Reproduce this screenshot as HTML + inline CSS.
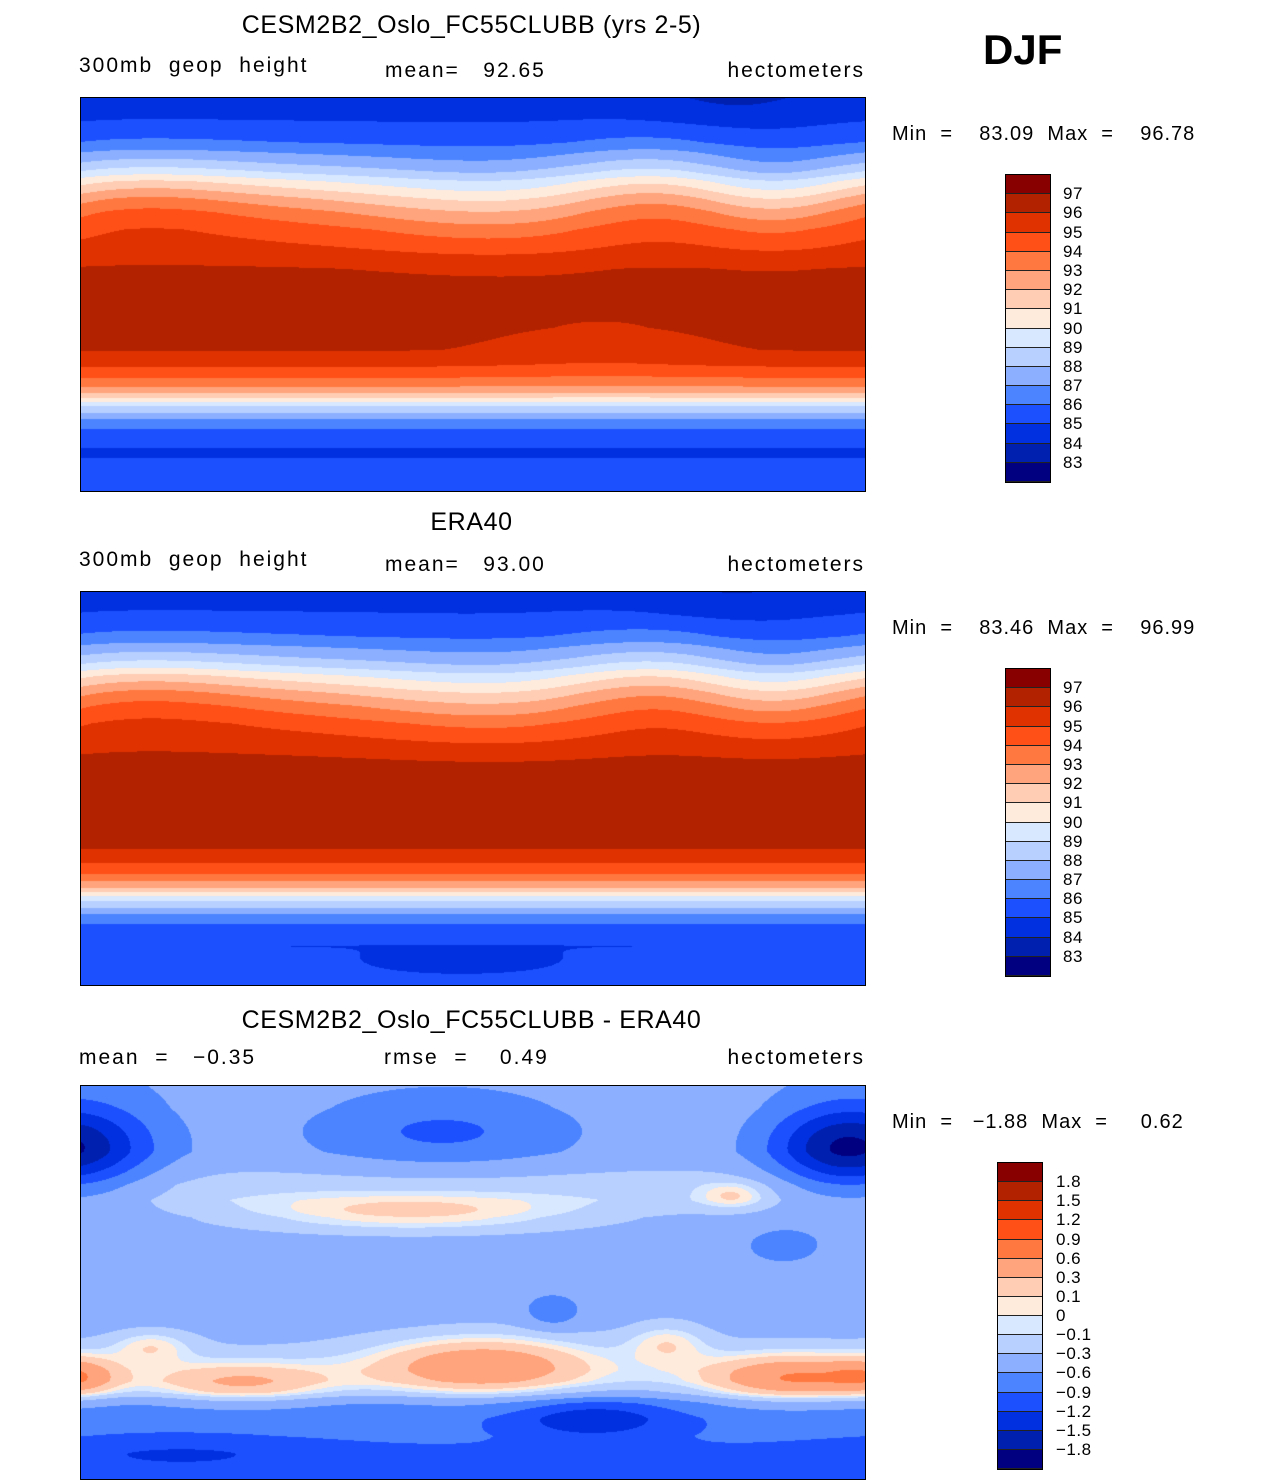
<!DOCTYPE html>
<html><head><meta charset="utf-8"><style>
body{margin:0;background:#fff;width:1285px;height:1484px;position:relative;font-family:"Liberation Sans",sans-serif;overflow:hidden}
.t{position:absolute;white-space:pre;color:#000}
.title{font-size:25px;letter-spacing:0.6px}
.sub{font-size:21px;letter-spacing:2px}
.mm{font-size:20px;letter-spacing:1px}
canvas{position:absolute;border:1px solid #000;box-sizing:border-box}
.cb{position:absolute;border:1px solid #000;box-sizing:border-box}
.cb div{box-sizing:border-box;border-bottom:1px solid #222}
.lab{position:absolute;font-size:17px;letter-spacing:0.5px}
</style></head><body>
<div class="t" style="left:983px;top:26px;font-size:42px;font-weight:bold">DJF</div>

<div class="t title" style="left:0;width:943px;text-align:center;top:11px">CESM2B2_Oslo_FC55CLUBB (yrs 2-5)</div>
<div class="t sub" style="left:79px;top:54px">300mb  geop  height</div>
<div class="t sub" style="left:385px;top:59px">mean=   92.65</div>
<div class="t sub" style="right:420px;top:59px">hectometers</div>
<div class="t mm" style="left:892px;top:123px">Min  =    83.09  Max  =    96.78</div>

<div class="t title" style="left:0;width:943px;text-align:center;top:508px">ERA40</div>
<div class="t sub" style="left:79px;top:548px">300mb  geop  height</div>
<div class="t sub" style="left:385px;top:553px">mean=   93.00</div>
<div class="t sub" style="right:420px;top:553px">hectometers</div>
<div class="t mm" style="left:892px;top:617px">Min  =    83.46  Max  =    96.99</div>

<div class="t title" style="left:0;width:943px;text-align:center;top:1006px">CESM2B2_Oslo_FC55CLUBB - ERA40</div>
<div class="t sub" style="left:79px;top:1046px">mean  =   −0.35</div>
<div class="t sub" style="left:384px;top:1046px">rmse  =    0.49</div>
<div class="t sub" style="right:420px;top:1046px">hectometers</div>
<div class="t mm" style="left:892px;top:1111px">Min  =   −1.88  Max  =     0.62</div>

<canvas id="m1" width="784" height="393" style="left:80px;top:97px"></canvas>
<canvas id="m2" width="784" height="393" style="left:80px;top:591px"></canvas>
<canvas id="m3" width="784" height="393" style="left:80px;top:1085px"></canvas>

<div id="cb1" class="cb" style="left:1005px;top:174px;width:46px;height:309px"></div>
<div id="cb2" class="cb" style="left:1005px;top:668px;width:46px;height:309px"></div>
<div id="cb3" class="cb" style="left:997px;top:1162px;width:46px;height:308px"></div>

<script>
const colors=["#000080","#0020b0","#0030e0","#1c50ff","#4c84ff","#8cb0ff","#b8d0ff","#d8e8ff","#ffebdc","#ffcdb4","#ffa47c","#ff7840","#ff5018","#e03200","#b22200","#880000"];
const levelsAbs=[83,84,85,86,87,88,89,90,91,92,93,94,95,96,97];
const levelsDiff=[-1.8,-1.5,-1.2,-0.9,-0.6,-0.3,-0.1,0,0.1,0.3,0.6,0.9,1.2,1.5,1.8];
const labelsAbs=["97","96","95","94","93","92","91","90","89","88","87","86","85","84","83"];
const labelsDiff=["1.8","1.5","1.2","0.9","0.6","0.3","0.1","0","−0.1","−0.3","−0.6","−0.9","−1.2","−1.5","−1.8"];

// zonal profiles (latitude -> value)
const lats=[90,80,70,65,60,56,52,48,44,38,30,20,12,0,-15,-25,-32,-38,-42,-45,-47,-49,-51,-54,-57,-60,-65,-72,-80,-90];
const model=[84.3,85,86,87,88,89,90.3,91.3,92.3,93.5,94.6,95.4,96.1,96.4,96.4,96.1,95.2,94,93,92,91,90,89,88,87,86.3,85.3,84.9,85.2,85.4];
const era=[84.4,85.1,86.1,87.1,88.1,89.1,90.4,91.4,92.4,93.6,94.8,95.7,96.3,96.6,96.6,96.3,95.4,94.2,93.1,92.1,91.1,90.1,89.1,88.1,87.1,86.4,85.4,85.0,85.2,85.4];
const diffLats=[90,80,70,60,52,45,38,30,20,0,-20,-28,-35,-40,-45,-50,-55,-62,-70,-78,-85,-90];
const diffVals=[-0.5,-0.45,-0.45,-0.45,-0.3,-0.18,-0.2,-0.4,-0.45,-0.45,-0.42,-0.34,-0.26,-0.22,-0.24,-0.38,-0.7,-0.85,-0.85,-0.95,-0.95,-0.95];
// blobs: [x px, y px, amplitude, sx, sy]
const blobs1=[[420,105,-1.6,110,35],[690,95,-1.6,60,35],[565,90,1.2,70,35],[60,95,1.0,80,30],[520,240,-0.5,90,25],[650,10,-0.5,60,15]];
const blobs2=[[420,105,-1.5,110,35],[690,95,-1.5,60,35],[565,90,1.2,70,35],[60,95,1.0,80,30],[380,372,-0.5,70,9],[650,10,-0.5,60,15]];
const blobs3=[[330,128,0.5,130,14],[652,109,0.35,25,10],[15,60,-0.55,55,35],[755,62,-1.0,50,30],[361,45,-0.5,90,25],[702,159,-0.35,25,12],[471,225,-0.4,20,12],[401,279,0.8,80,22],[712,292,0.85,65,18],[160,298,0.6,65,16],[70,259,0.4,30,12],[586,255,0.4,30,15],[511,332,-0.6,55,14],[100,368,-0.3,90,12],[0,290,0.4,25,14]];

function interp(la,L,V){for(let i=0;i<L.length-1;i++){if(la<=L[i]&&la>=L[i+1]){const t=(L[i]-la)/(L[i]-L[i+1]);return V[i]+t*(V[i+1]-V[i]);}}return V[V.length-1];}
function hex(c){return [parseInt(c.substr(1,2),16),parseInt(c.substr(3,2),16),parseInt(c.substr(5,2),16)];}
const rgb=colors.map(hex);
function draw(id,L,V,B,levels){
  const cv=document.getElementById(id),ctx=cv.getContext('2d');
  const W=cv.width,H=cv.height,img=ctx.createImageData(W,H);
  const prof=[];for(let y=0;y<H;y++){prof.push(interp(90-y/H*180,L,V));}
  for(let y=0;y<H;y++)for(let x=0;x<W;x++){
    let v=prof[y];
    for(const b of B){let dx=Math.abs(x-b[0]);dx=Math.min(dx,W-dx);const dy=y-b[1];v+=b[2]*Math.exp(-(dx*dx)/(2*b[3]*b[3])-(dy*dy)/(2*b[4]*b[4]));}
    let k=0;while(k<levels.length&&v>=levels[k])k++;
    const c=rgb[k],p=(y*W+x)*4;img.data[p]=c[0];img.data[p+1]=c[1];img.data[p+2]=c[2];img.data[p+3]=255;}
  ctx.putImageData(img,0,0);
}
draw('m1',lats,model,blobs1,levelsAbs);
draw('m2',lats,era,blobs2,levelsAbs);
draw('m3',diffLats,diffVals,blobs3,levelsDiff);

function bar(id,labels,labX){
  const cb=document.getElementById(id);const h=(cb.offsetHeight-2)/16;
  for(let i=15;i>=0;i--){const d=document.createElement('div');d.style.height=h+'px';d.style.background=colors[i];
    
    
    cb.appendChild(d);}
  const top=cb.offsetTop;
  labels.forEach((s,i)=>{const l=document.createElement('div');l.className='lab';l.textContent=s;
    
    
    l.style.left=labX+'px';l.style.top=(top+(i+1)*h+1-10)+'px';document.body.appendChild(l);});
}
bar('cb1',labelsAbs,1063);
bar('cb2',labelsAbs,1063);
bar('cb3',labelsDiff,1056);
</script>
</body></html>
